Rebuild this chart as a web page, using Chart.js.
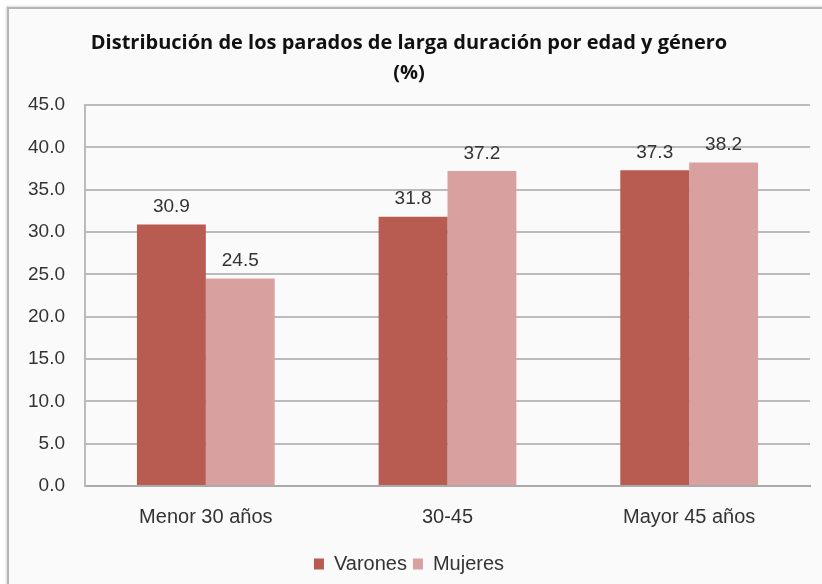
<!DOCTYPE html>
<html>
<head>
<meta charset="utf-8">
<script src="https://cdn.jsdelivr.net/npm/chart.js@4.4.0/dist/chart.umd.min.js"></script>
<style>
  body { margin: 0; background: #fff; }
  #box {
    position: absolute; left: 7px; top: 7px; width: 830px; height: 590px;
    border-left: 2px solid #b5b5b5; border-top: 2px solid #b5b5b5;
    background: #fafafa;
    box-shadow: -1px -1px 2px rgba(0,0,0,0.15);
  }
  #wrap { position: absolute; left: 0; top: 0; width: 822px; height: 584px; }
</style>
</head>
<body>
<div id="box"></div>
<div id="wrap"><canvas id="mychart" width="822" height="584"></canvas></div>
<script>
// データ
const categories = ['Menor 30 años', '30-45', 'Mayor 45 años'];
const varones = [30.9, 31.8, 37.3];
const mujeres = [24.5, 37.2, 38.2];
const yTicks = [0, 5, 10, 15, 20, 25, 30, 35, 40, 45];

const FONT = '"Liberation Sans", Arial, sans-serif';

// 棒の上に数値を描く
const valueLabels = {
  id: 'valueLabels',
  afterDatasetsDraw(chart) {
    const c = chart.ctx;
    c.save();
    c.font = '19px ' + FONT;
    c.fillStyle = '#333';
    c.textAlign = 'center';
    c.textBaseline = 'bottom';
    chart.data.datasets.forEach((ds, i) => {
      chart.getDatasetMeta(i).data.forEach((bar, j) => {
        c.fillText(ds.data[j].toFixed(1), bar.x, bar.y - 8);
      });
    });
    c.restore();
  }
};

let ctx = document.getElementById('mychart');
let myChart = new Chart(ctx, {
  type: 'bar',
  data: {
    labels: categories,
    datasets: [{
      label: 'Varones',
      data: varones,
      backgroundColor: '#b85b50',
    }, {
      label: 'Mujeres',
      data: mujeres,
      backgroundColor: '#d8a1a0',
    }],
  },
  options: {
    responsive: false,
    animation: false,
    layout: { padding: { left: 8, right: 12, top: 28, bottom: 0 } },
    datasets: { bar: { categoryPercentage: 0.57, barPercentage: 1.0 } },
    plugins: {
      title: {
        display: true,
        text: ['Distribución de los parados de larga duración por edad y género', '(%)'],
        font: { family: '"Open Sans", sans-serif', size: 20, weight: 'bold', lineHeight: 1.5 },
        color: '#111',
        padding: { top: 0, bottom: 17 },
      },
      legend: {
        position: 'bottom',
        labels: {
          boxWidth: 10, boxHeight: 11,
          padding: 6,
          color: '#333',
          font: { family: FONT, size: 20 },
        },
      },
      tooltip: { enabled: false },
    },
    scales: {
      x: {
        grid: { display: false, drawTicks: false },
        border: { color: '#aaa', width: 2 },
        ticks: {
          color: '#333', padding: 19,
          font: { family: FONT, size: 20 },
        },
      },
      y: {
        min: 0,
        max: 45,
        afterBuildTicks: (axis) => { axis.ticks = yTicks.map(v => ({ value: v })); },
        grid: { color: '#bbb', lineWidth: 2, drawTicks: false },
        border: { color: '#bbb', width: 2 },
        ticks: {
          color: '#333', padding: 20,
          font: { family: FONT, size: 19 },
          callback: (v) => Number(v).toFixed(1),
        },
      },
    },
  },
  plugins: [valueLabels],
});
</script>
</body>
</html>
